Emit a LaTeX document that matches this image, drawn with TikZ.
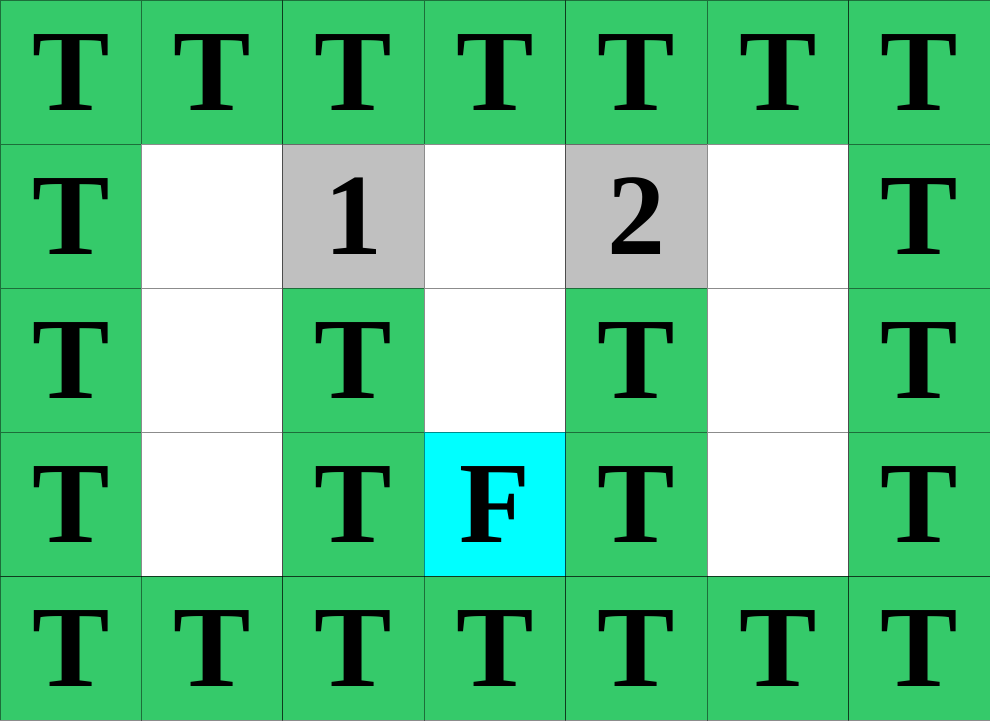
\documentclass[tikz,border=0pt]{standalone}
\usepackage{fontspec}
\setmainfont{Liberation Serif}
\definecolor{tgreen}{RGB}{53,202,106}
\definecolor{tgray}{RGB}{192,192,192}
\definecolor{tcyan}{RGB}{0,255,255}
\tikzset{
  cell/.style={rectangle, inner sep=0pt, outer sep=0pt, minimum width=141.43pt, minimum height=144pt,
    draw=black, draw opacity=0.45, line width=0.9pt, text height=77pt, text depth=0pt,
    font=\fontsize{116}{116}\selectfont\bfseries, text=black},
  tree/.style={cell, fill=tgreen},
  free/.style={cell, fill=white},
  num/.style={cell, fill=tgray},
  fin/.style={cell, fill=tcyan}
}
\begin{document}
\begin{tikzpicture}[x=141.4286pt,y=144pt]
\useasboundingbox (0,0) rectangle (7,-5);
% row 0
\foreach \c in {0,...,6} {\node[tree] (c0\c) at (\c+0.5,-0.5) {T};}
% row 4
\foreach \c in {0,...,6} {\node[tree] (c4\c) at (\c+0.5,-4.5) {T};}
% row 1
\node[tree] (c10) at (0.5,-1.5) {T};
\node[free] (c11) at (1.5,-1.5) {};
\node[num]  (c12) at (2.5,-1.5) {1};
\node[free] (c13) at (3.5,-1.5) {};
\node[num]  (c14) at (4.5,-1.5) {2};
\node[free] (c15) at (5.5,-1.5) {};
\node[tree] (c16) at (6.5,-1.5) {T};
% row 2
\node[tree] (c20) at (0.5,-2.5) {T};
\node[free] (c21) at (1.5,-2.5) {};
\node[tree] (c22) at (2.5,-2.5) {T};
\node[free] (c23) at (3.5,-2.5) {};
\node[tree] (c24) at (4.5,-2.5) {T};
\node[free] (c25) at (5.5,-2.5) {};
\node[tree] (c26) at (6.5,-2.5) {T};
% row 3
\node[tree] (c30) at (0.5,-3.5) {T};
\node[free] (c31) at (1.5,-3.5) {};
\node[tree] (c32) at (2.5,-3.5) {T};
\node[fin]  (c33) at (3.5,-3.5) {F};
\node[tree] (c34) at (4.5,-3.5) {T};
\node[free] (c35) at (5.5,-3.5) {};
\node[tree] (c36) at (6.5,-3.5) {T};
\end{tikzpicture}
\end{document}
